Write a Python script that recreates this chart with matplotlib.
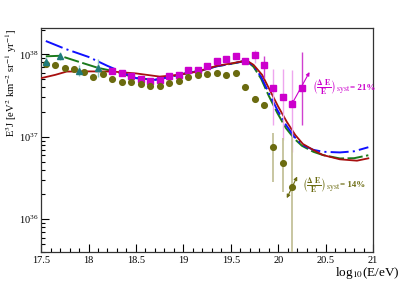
import numpy as np
import matplotlib
matplotlib.use("Agg")
import matplotlib.pyplot as plt
from matplotlib.ticker import LogLocator, MultipleLocator, NullFormatter, FixedLocator

plt.rcParams["font.family"] = ["Liberation Serif", "DejaVu Serif"]
plt.rcParams["mathtext.fontset"] = "stix"
plt.rcParams["lines.scale_dashes"] = False

# ── data ─────────────────────────────────────────────────────────────────────
# magenta squares
sq_E = [18.25, 18.35, 18.45, 18.55, 18.65, 18.75, 18.85, 18.95, 19.05, 19.15, 19.25,
        19.35, 19.45, 19.55, 19.65, 19.75, 19.85, 19.95, 20.05, 20.15, 20.25]
sq_F = [6.36e37, 6.0e37, 5.43e37, 5.08e37, 4.77e37, 4.94e37, 5.52e37, 5.68e37, 6.43e37, 6.43e37, 7.25e37,
        8.2e37, 8.74e37, 9.5e37, 8.2e37, 9.7e37, 7.45e37, 3.92e37, 3.07e37, 2.5e37, 3.88e37]
sq_hi = [6.5e37, 6.15e37, 5.57e37, 5.22e37, 4.9e37, 5.1e37, 5.7e37, 5.85e37, 6.65e37, 6.65e37, 7.5e37,
         8.5e37, 9.05e37, 1.05e38, 8.6e37, 1.13e38, 9.6e37, 6.63e37, 6.67e37, 6.46e37, 1.075e38]
sq_lo = [6.22e37, 5.85e37, 5.3e37, 4.95e37, 4.65e37, 4.8e37, 5.35e37, 5.5e37, 6.2e37, 6.2e37, 7.0e37,
         7.9e37, 8.45e37, 8.7e37, 7.8e37, 7.82e37, 5.15e37, 1.4e37, 9.2e36, 6.58e36, 1.4e37]
sq_light = [False] * 15 + [True, False, True, True, True, False]

# olive circles
ci_E = [17.55, 17.65, 17.75, 17.85, 17.95, 18.05, 18.15, 18.25, 18.35, 18.45, 18.55, 18.65, 18.75,
        18.85, 18.95, 19.05, 19.15, 19.25, 19.35, 19.45, 19.55, 19.65, 19.75, 19.85, 19.95, 20.05, 20.15]
ci_F = [7.67e37, 7.35e37, 6.86e37, 6.57e37, 6.08e37, 5.33e37, 5.8e37, 5.04e37, 4.63e37, 4.6e37, 4.35e37,
        4.14e37, 4.14e37, 4.5e37, 4.8e37, 5.29e37, 5.64e37, 5.8e37, 6.01e37, 5.69e37, 6.01e37, 4.03e37,
        2.9e37, 2.41e37, 7.58e36, 4.77e36, 2.48e36]
ci_err_E = [19.75, 19.85, 19.95, 20.05, 20.15]
ci_err_F = [2.9e37, 2.41e37, 7.58e36, 4.77e36, 2.48e36]
ci_err_hi = [3.15e37, 2.65e37, 1.11e37, 9.7e36, 9.9e36]
ci_err_lo = [2.65e37, 2.2e37, 2.8e36, 2.15e36, 4.0e35]

# teal triangles
tr_E = [17.55, 17.7, 17.9, 18.1]
tr_F = [8.18e37, 9.67e37, 6.36e37, 6.85e37]
tr_hi = [9.4e37, 1.077e38, 7.46e37, 8.7e37]
tr_lo = [7.1e37, 8.57e37, 5.5e37, 5.35e37]

# model curves
red_E = [17.5, 17.65, 17.77, 18.0, 18.25, 18.5, 18.75, 18.95, 19.15, 19.35, 19.52, 19.65, 19.69,
         19.74, 19.83, 19.91, 20.0, 20.09, 20.18, 20.26, 20.37, 20.47, 20.65, 20.83, 20.95]
red_F = [5.14e37, 5.64e37, 6.18e37, 6.21e37, 6.18e37, 5.87e37, 5.37e37, 5.64e37, 6.18e37, 7.24e37,
         7.82e37, 8.34e37, 8.1e37, 7.45e37, 5.64e37, 3.71e37, 2.32e37, 1.52e37, 1.05e37, 8.18e36,
         6.92e36, 6.01e36, 5.33e36, 5.13e36, 5.48e36]

blue_E = [17.55, 17.75, 18.0, 18.2, 18.3, 18.5, 18.7, 18.8, 19.0, 19.2, 19.35, 19.52, 19.65, 19.69,
          19.74, 19.82, 19.9, 19.99, 20.08, 20.17, 20.25, 20.37, 20.47, 20.65, 20.8, 20.95]
blue_F = [1.45e38, 1.17e38, 9.3e37, 7.24e37, 6.46e37, 5.15e37, 4.91e37, 5.15e37, 5.8e37, 6.4e37,
          7.16e37, 7.73e37, 8.34e37, 8.0e37, 7.24e37, 5.33e37, 3.41e37, 2.12e37, 1.4e37, 1.0e37,
          8.0e36, 6.95e36, 6.58e36, 6.46e36, 6.67e36, 7.47e36]

green_E = [17.55, 17.7, 17.9, 18.1, 18.3, 18.5, 18.7, 18.8, 19.0, 19.2, 19.35, 19.52, 19.65, 19.69,
           19.74, 19.82, 19.9, 19.99, 20.08, 20.17, 20.25, 20.37, 20.47, 20.65, 20.8, 20.95]
green_F = [9.46e37, 9.6e37, 8.1e37, 6.85e37, 6.12e37, 5.15e37, 4.91e37, 5.15e37, 5.8e37, 6.4e37,
           7.16e37, 7.73e37, 8.3e37, 7.9e37, 7.05e37, 5.05e37, 3.14e37, 1.95e37, 1.28e37, 9.47e36,
           7.78e36, 6.58e36, 6.01e36, 5.46e36, 5.5e36, 5.97e36]

# ── figure ───────────────────────────────────────────────────────────────────
fig = plt.figure(figsize=(4.15, 2.81), dpi=100)
ax = fig.add_axes([0.099, 0.103, 0.800, 0.797])
ax.set_xlim(17.5, 21)
ax.set_yscale("log")
ax.set_ylim(4.0e35, 2.08e38)

MAG = "#cc00cc"
OLV = "#6b6b10"
TEAL = "#1e7b7b"

# lines
ax.plot(green_E, green_F, color="#1b7a1b", lw=1.4, dashes=(11, 2.5), zorder=2)
ax.plot(blue_E, blue_F, color="#1010ff", lw=1.4, dashes=(13, 3, 1.5, 3), zorder=3)
ax.plot(red_E, red_F, color="#a80f0f", lw=1.3, zorder=4)

# magenta squares
sq_E = np.array(sq_E); sq_F = np.array(sq_F)
sq_hi = np.array(sq_hi); sq_lo = np.array(sq_lo)
light = np.array(sq_light)
for mask, col in [(~light, "#d040d0"), (light, "#eea6ee")]:
    ax.errorbar(sq_E[mask], sq_F[mask],
                yerr=[sq_F[mask] - sq_lo[mask], sq_hi[mask] - sq_F[mask]],
                fmt="none", ecolor=col, elinewidth=1.0, capsize=0, zorder=5)
ax.plot(sq_E, sq_F, "s", color=MAG, ms=3.9, mec=MAG, zorder=7)

# olive circles
ci_err_F = np.array(ci_err_F)
ax.errorbar(ci_err_E, ci_err_F,
            yerr=[ci_err_F - np.array(ci_err_lo), np.array(ci_err_hi) - ci_err_F],
            fmt="none", ecolor="#c4c29a", elinewidth=1.3, capsize=0, zorder=5)
ax.plot(ci_E, ci_F, "o", color=OLV, ms=4.1, mec=OLV, zorder=7)

# teal triangles
tr_F = np.array(tr_F)
ax.errorbar(tr_E, tr_F, yerr=[tr_F - np.array(tr_lo), np.array(tr_hi) - tr_F],
            fmt="none", ecolor="#8fc4c4", elinewidth=1.0, capsize=0, zorder=5)
ax.plot(tr_E, tr_F, "^", color=TEAL, ms=4.1, mec=TEAL, zorder=7)

# systematic shift arrows and labels
ax.annotate("", xy=(20.33, 6.1e37), xytext=(20.14, 2.45e37),
            arrowprops=dict(arrowstyle="<|-|>", color=MAG, lw=0.8,
                            mutation_scale=5, shrinkA=0, shrinkB=0), zorder=8)
ax.annotate("", xy=(20.2, 3.3e36), xytext=(20.09, 1.8e36),
            arrowprops=dict(arrowstyle="<|-|>", color=OLV, lw=0.8,
                            mutation_scale=5, shrinkA=0, shrinkB=0), zorder=8)
frac = r"$\left(\frac{\mathbf{\Delta\ E}}{\mathbf{E}}\right)_{\rm syst}$"
ax.text(20.355, 3.9e37, frac, color=MAG, fontsize=8, va="center", ha="left")
ax.text(20.755, 3.95e37, "= 21%", color=MAG, fontsize=6.5, fontweight="bold",
        va="center", ha="left")
ax.text(20.25, 2.55e36, frac, color=OLV, fontsize=8, va="center", ha="left")
ax.text(20.655, 2.6e36, "= 14%", color=OLV, fontsize=6.5, fontweight="bold",
        va="center", ha="left")

# axes styling (ROOT-like)
ax.xaxis.set_major_locator(FixedLocator([17.5, 18, 18.5, 19, 19.5, 20, 20.5, 21]))
ax.xaxis.set_minor_locator(MultipleLocator(0.1))
ax.set_xticklabels(["17.5", "18", "18.5", "19", "19.5", "20", "20.5", "21"])
ax.yaxis.set_major_locator(LogLocator(base=10, numticks=10))
ax.yaxis.set_minor_locator(LogLocator(base=10, subs=np.arange(2, 10), numticks=20))
ax.yaxis.set_minor_formatter(NullFormatter())
ax.tick_params(which="both", direction="in", top=False, right=False, labelsize=7.5,
               width=0.8, colors="black")
ax.tick_params(which="major", length=6, pad=3)
ax.tick_params(axis="y", which="major", pad=2)
ax.tick_params(which="minor", length=3)
for sp in ax.spines.values():
    sp.set_linewidth(0.9)
    sp.set_color("#333333")

fig.text(11 / 415, 1 - 29 / 281, r"E$^3$J [eV$^2$ km$^{-2}$ sr$^{-1}$ yr$^{-1}$]",
         fontsize=7.6, rotation=90, ha="center", va="top")
fig.text(400 / 415, 1 - 276 / 281, r"log$_{10}$(E/eV)", fontsize=9.5, ha="right", va="baseline")

fig.savefig("out.png", dpi=100)
